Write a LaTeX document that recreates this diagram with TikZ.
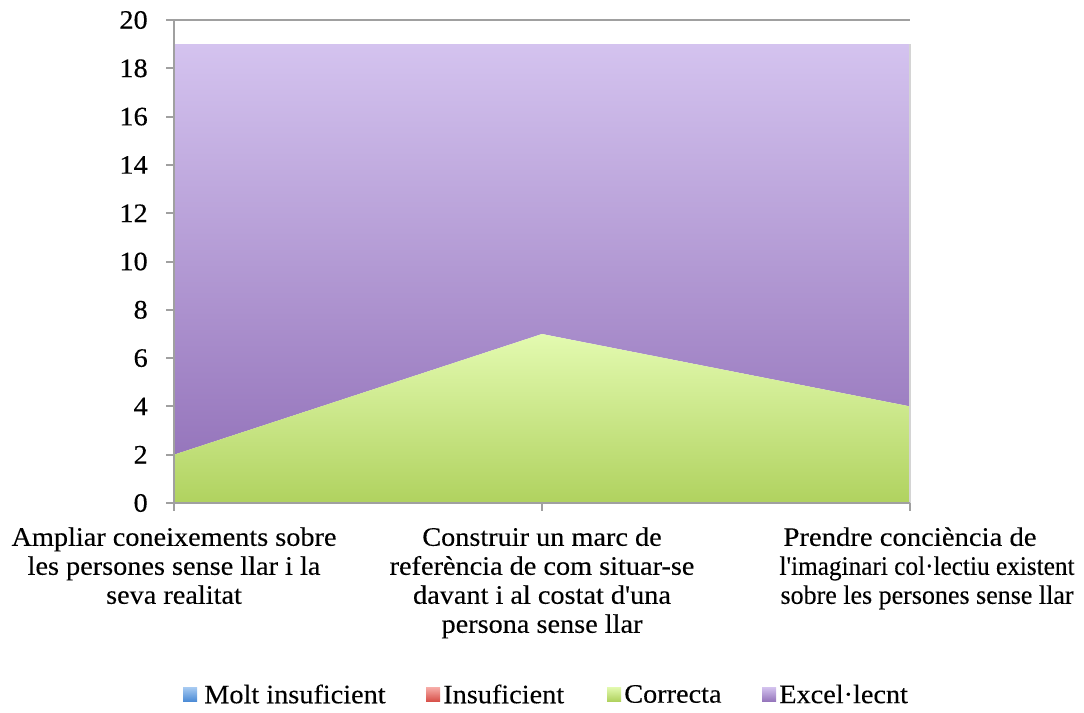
\documentclass[tikz,border=0pt]{standalone}
\usepackage{fontspec}
\usepackage{graphicx}
\setmainfont{Liberation Serif}[FakeStretch=1.06,FakeBold=0.25,Ligatures=TeXOff]
\definecolor{axisgray}{HTML}{A0A0A0}
\definecolor{edgegray}{HTML}{D4D4D4}
\definecolor{purpTop}{HTML}{D4C3EF}
\definecolor{purpBot}{HTML}{9676BC}
\definecolor{grnTop}{HTML}{E3FAB0}
\definecolor{grnBot}{HTML}{B0D25F}
\definecolor{bluTop}{HTML}{A8CBF2}
\definecolor{bluBot}{HTML}{4D8CD6}
\definecolor{redTop}{HTML}{F7AEA9}
\definecolor{redBot}{HTML}{D8524B}
\newcommand{\fitw}[2]{\resizebox{#1}{\height}{#2}}
\begin{document}
\begin{tikzpicture}[x=0.75pt,y=-0.75pt,
  axis/.style={draw=axisgray,line width=1.5pt},
  lbl/.style={font=\fontsize{20pt}{21.75pt}\selectfont,inner sep=0pt},
  ylbl/.style={lbl,anchor=east},
  cat/.style={lbl,align=center,anchor=north},
  legsq/.style={minimum size=10.5pt,inner sep=0pt},
  legtxt/.style={lbl,anchor=west}]
\useasboundingbox (0,0) rectangle (1084,713);
% areas
\path[top color=purpTop,bottom color=purpBot]
  (174,44.2) -- (910,44.2) -- (910,406.4) -- (542,334) -- (174,454.7) -- cycle;
\path[top color=grnTop,bottom color=grnBot]
  (174,454.7) -- (542,334) -- (910,406.4) -- (910,503) -- (174,503) -- cycle;
\draw[edgegray,line width=1pt] (910,44.2) -- (910,503);
% axes
\coordinate (o) at (174,503);
\coordinate (ytop) at (174,20);
\coordinate (xend) at (910,503);
\draw[axis] (ytop) -- (o) -- (xend);
\draw[axis] (166,20) -- (910,20);
\foreach \v in {0,2,...,20}{
  \pgfmathsetmacro{\yy}{503-\v*24.15}
  \draw[axis] (166,\yy) -- (174,\yy);
  \node[ylbl] (y\v) at (148,\yy) {\v};
}
\foreach \xx in {174,542,910}{
  \draw[axis] (\xx,503) -- (\xx,511);
}
% category labels
\node[cat] (c1) at (174,527) {Ampliar coneixements sobre\\les persones sense llar i la\\seva realitat};
\node[cat] (c2) at (542,527) {Construir un marc de\\referència de com situar-se\\davant i al costat d'una\\persona sense llar};
\node[cat] (c3) at (927,527) {\fitw{189.75pt}{Prendre conciència de}\hspace*{25.5pt}\\\fitw{221.25pt}{l'imaginari col·lectiu existent}\\\fitw{219.75pt}{sobre les persones sense llar}};
% legend
\node[legsq,top color=bluTop,bottom color=bluBot] (s1) at (190,694) {};
\node[legtxt] (t1) at (204,694) {Molt insuficient};
\node[legsq,top color=redTop,bottom color=redBot] (s2) at (433,694) {};
\node[legtxt] (t2) at (443,694) {Insuficient};
\node[legsq,top color=grnTop,bottom color=grnBot] (s3) at (614,694) {};
\node[legtxt] (t3) at (624,694) {Correcta};
\node[legsq,top color=purpTop,bottom color=purpBot] (s4) at (769,694) {};
\node[legtxt] (t4) at (779,694) {Excel·lecnt};
\end{tikzpicture}
\end{document}
